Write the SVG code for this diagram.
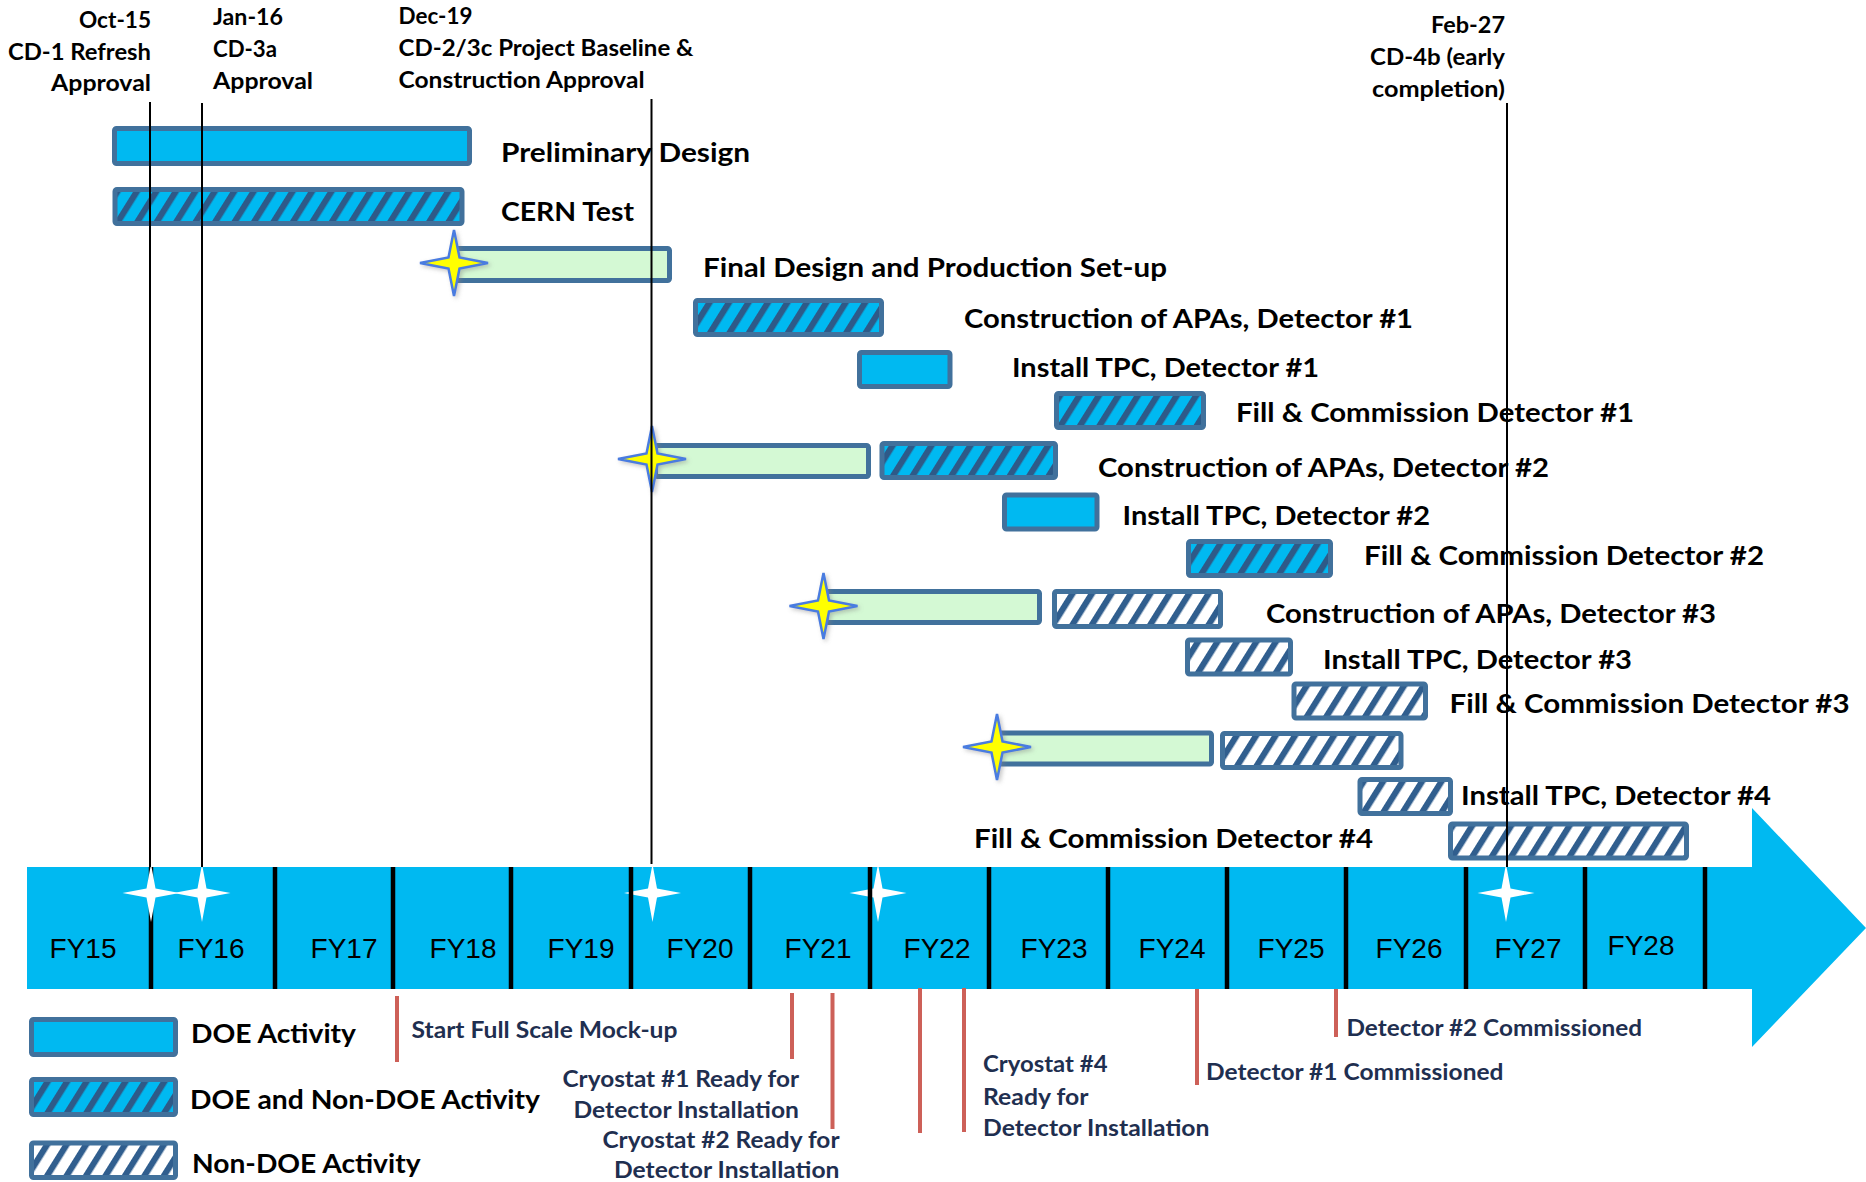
<svg xmlns="http://www.w3.org/2000/svg" xmlns:xlink="http://www.w3.org/1999/xlink" width="1866" height="1182" viewBox="0 0 1866 1182">
  <style>
    .band { fill: #00B9F1; }
    .div { stroke: #000; stroke-width: 4.5; }
    .fy { font-family: "Liberation Sans", Arial, sans-serif; font-size: 28px; fill: #000; text-anchor: middle; }
    .bar { stroke: #41719C; stroke-width: 5; }
    .doe { fill: #00B9F1; }
    .mix { fill: url(#hatchMix); }
    .non { fill: url(#hatchNon); }
    .grn { fill: #D4F9D4; }
    .top { font-family: Lato, "Liberation Sans", sans-serif; font-weight: bold; font-size: 23.5px; fill: #000; }
    .lbl { font-family: Lato, "Liberation Sans", sans-serif; font-weight: bold; font-size: 26.5px; fill: #000; }
    .leg { font-family: Lato, "Liberation Sans", sans-serif; font-weight: bold; font-size: 26px; fill: #000; }
    .note { font-family: Lato, "Liberation Sans", sans-serif; font-weight: bold; font-size: 22px; fill: #1F2F50; }
    .ms { stroke: #000; stroke-width: 2; }
    .red { stroke: #CD6058; stroke-width: 4; }
    .ystar { fill: #FFFF00; stroke: #4A7BE0; stroke-width: 2.5; filter: url(#soft); }
    .wstar { fill: #FFFFFF; }
  </style>
  <defs>
    <pattern id="hatchMix" patternUnits="userSpaceOnUse" width="16.5" height="20" patternTransform="rotate(32)">
      <rect width="16.5" height="20" fill="#00B9F1"/>
      <rect width="6.2" height="20" fill="#2E5A88"/>
    </pattern>
    <pattern id="hatchNon" patternUnits="userSpaceOnUse" width="16.5" height="20" patternTransform="rotate(32)">
      <rect width="16.5" height="20" fill="#FFFFFF"/>
      <rect width="6.2" height="20" fill="#305E8E"/>
    </pattern>
    <filter id="soft" x="-50%" y="-50%" width="200%" height="200%">
      <feDropShadow dx="2" dy="2" stdDeviation="2" flood-color="#808080" flood-opacity="0.45"/>
    </filter>
    <path id="ystarShape" d="M0,-33 L5.5,-5.5 L34,0 L5.5,5.5 L0,33 L-5.5,5.5 L-34,0 L-5.5,-5.5 Z"/>
    <path id="wstarShape" d="M0,-29 L4.5,-4.5 L28.5,0 L4.5,4.5 L0,29 L-4.5,4.5 L-28.5,0 L-4.5,-4.5 Z"/>
  </defs>

  <rect width="1866" height="1182" fill="#FFFFFF"/>

  <!-- fiscal-year timeline arrow -->
  <g id="timeline">
    <polygon class="band" points="27,867 1752,867 1752,808 1866,928 1752,1047 1752,989 27,989"/>
    <g>
      <line class="div" x1="151" y1="867" x2="151" y2="989"/>
      <line class="div" x1="275" y1="867" x2="275" y2="989"/>
      <line class="div" x1="393" y1="867" x2="393" y2="989"/>
      <line class="div" x1="511" y1="867" x2="511" y2="989"/>
      <line class="div" x1="750" y1="867" x2="750" y2="989"/>
      <line class="div" x1="989" y1="867" x2="989" y2="989"/>
      <line class="div" x1="1108" y1="867" x2="1108" y2="989"/>
      <line class="div" x1="1227" y1="867" x2="1227" y2="989"/>
      <line class="div" x1="1346" y1="867" x2="1346" y2="989"/>
      <line class="div" x1="1466" y1="867" x2="1466" y2="989"/>
      <line class="div" x1="1585" y1="867" x2="1585" y2="989"/>
      <line class="div" x1="1705" y1="867" x2="1705" y2="989"/>
    </g>
    <g>
      <use xlink:href="#wstarShape" class="wstar" x="151" y="893"/>
      <use xlink:href="#wstarShape" class="wstar" x="202" y="893"/>
      <use xlink:href="#wstarShape" class="wstar" x="652.5" y="893"/>
      <use xlink:href="#wstarShape" class="wstar" x="878" y="893"/>
      <use xlink:href="#wstarShape" class="wstar" x="1506" y="893"/>
    </g>
    <line class="div" x1="631" y1="867" x2="631" y2="989"/>
    <line class="div" x1="870" y1="867" x2="870" y2="989"/>
    <g>
      <text class="fy" x="83" y="958">FY15</text>
      <text class="fy" x="211" y="958">FY16</text>
      <text class="fy" x="344" y="958">FY17</text>
      <text class="fy" x="463" y="958">FY18</text>
      <text class="fy" x="581" y="958">FY19</text>
      <text class="fy" x="700" y="958">FY20</text>
      <text class="fy" x="818" y="958">FY21</text>
      <text class="fy" x="937" y="958">FY22</text>
      <text class="fy" x="1054" y="958">FY23</text>
      <text class="fy" x="1172" y="958">FY24</text>
      <text class="fy" x="1291" y="958">FY25</text>
      <text class="fy" x="1409" y="958">FY26</text>
      <text class="fy" x="1528" y="958">FY27</text>
      <text class="fy" x="1641" y="955">FY28</text>
    </g>
  </g>

  <!-- decision milestones -->
  <g id="cd1">
    <text class="top" x="79" y="28" textLength="72" lengthAdjust="spacingAndGlyphs">Oct-15</text>
    <text class="top" x="8" y="60" textLength="143" lengthAdjust="spacingAndGlyphs">CD-1 Refresh</text>
    <text class="top" x="51" y="91" textLength="100" lengthAdjust="spacingAndGlyphs">Approval</text>
  </g>
  <g id="cd3a">
    <text class="top" x="213" y="25" textLength="70" lengthAdjust="spacingAndGlyphs">Jan-16</text>
    <text class="top" x="213" y="57" textLength="64" lengthAdjust="spacingAndGlyphs">CD-3a</text>
    <text class="top" x="213" y="88.5" textLength="100" lengthAdjust="spacingAndGlyphs">Approval</text>
  </g>
  <g id="cd2">
    <text class="top" x="398.5" y="24" textLength="74" lengthAdjust="spacingAndGlyphs">Dec-19</text>
    <text class="top" x="398.5" y="55.5" textLength="295" lengthAdjust="spacingAndGlyphs">CD-2/3c Project Baseline &amp;</text>
    <text class="top" x="398.5" y="87.5" textLength="246" lengthAdjust="spacingAndGlyphs">Construction Approval</text>
  </g>
  <g id="cd4b">
    <text class="top" x="1431" y="33" textLength="74" lengthAdjust="spacingAndGlyphs">Feb-27</text>
    <text class="top" x="1370" y="65" textLength="135" lengthAdjust="spacingAndGlyphs">CD-4b (early</text>
    <text class="top" x="1372" y="96.5" textLength="133" lengthAdjust="spacingAndGlyphs">completion)</text>
  </g>

  <!-- activities -->
  <g id="preliminary-design">
    <rect class="bar doe" x="114.5" y="128.5" width="355" height="35" rx="2"/>
    <text class="lbl" x="501" y="162" textLength="249" lengthAdjust="spacingAndGlyphs">Preliminary Design</text>
  </g>
  <g id="cern-test">
    <rect class="bar mix" x="115" y="189.5" width="347" height="34" rx="2"/>
    <text class="lbl" x="501" y="221" textLength="133" lengthAdjust="spacingAndGlyphs">CERN Test</text>
  </g>
  <g id="final-design">
    <rect class="bar grn" x="456.5" y="248.5" width="213" height="32" rx="2"/>
    <use xlink:href="#ystarShape" class="ystar" x="454" y="263"/>
    <text class="lbl" x="703" y="276.5" textLength="464" lengthAdjust="spacingAndGlyphs">Final Design and Production Set-up</text>
  </g>
  <g id="apa-det1">
    <rect class="bar mix" x="695.5" y="300.5" width="186" height="34" rx="2"/>
    <text class="lbl" x="964" y="328" textLength="449" lengthAdjust="spacingAndGlyphs">Construction of APAs, Detector #1</text>
  </g>
  <g id="tpc-det1">
    <rect class="bar doe" x="859.5" y="352.5" width="90.5" height="34" rx="2"/>
    <text class="lbl" x="1012" y="376.5" textLength="307" lengthAdjust="spacingAndGlyphs">Install TPC, Detector #1</text>
  </g>
  <g id="fill-det1">
    <rect class="bar mix" x="1056.5" y="393.5" width="147" height="34" rx="2"/>
    <text class="lbl" x="1236" y="421.5" textLength="398" lengthAdjust="spacingAndGlyphs">Fill &amp; Commission Detector #1</text>
  </g>
  <g id="prep-det2">
    <rect class="bar grn" x="655.5" y="445.5" width="213" height="31" rx="2"/>
    <use xlink:href="#ystarShape" class="ystar" x="652" y="459"/>
  </g>
  <g id="apa-det2">
    <rect class="bar mix" x="882" y="443.5" width="173.5" height="34" rx="2"/>
    <text class="lbl" x="1098" y="476.5" textLength="451" lengthAdjust="spacingAndGlyphs">Construction of APAs, Detector #2</text>
  </g>
  <g id="tpc-det2">
    <rect class="bar doe" x="1004.5" y="495" width="92.5" height="34" rx="2"/>
    <text class="lbl" x="1122.5" y="525" textLength="307.5" lengthAdjust="spacingAndGlyphs">Install TPC, Detector #2</text>
  </g>
  <g id="fill-det2">
    <rect class="bar mix" x="1188.5" y="541.5" width="142" height="34" rx="2"/>
    <text class="lbl" x="1364" y="564.5" textLength="400" lengthAdjust="spacingAndGlyphs">Fill &amp; Commission Detector #2</text>
  </g>
  <g id="prep-det3">
    <rect class="bar grn" x="826" y="591.5" width="213.5" height="31" rx="2"/>
    <use xlink:href="#ystarShape" class="ystar" x="823.5" y="606"/>
  </g>
  <g id="apa-det3">
    <rect class="bar non" x="1054.5" y="591.5" width="166" height="35" rx="2"/>
    <text class="lbl" x="1266" y="622.5" textLength="450" lengthAdjust="spacingAndGlyphs">Construction of APAs, Detector #3</text>
  </g>
  <g id="tpc-det3">
    <rect class="bar non" x="1187.5" y="640" width="103" height="34" rx="2"/>
    <text class="lbl" x="1323" y="669" textLength="309" lengthAdjust="spacingAndGlyphs">Install TPC, Detector #3</text>
  </g>
  <g id="fill-det3">
    <rect class="bar non" x="1294" y="684" width="131.5" height="34" rx="2"/>
    <text class="lbl" x="1449.5" y="713" textLength="400" lengthAdjust="spacingAndGlyphs">Fill &amp; Commission Detector #3</text>
  </g>
  <g id="prep-det4">
    <rect class="bar grn" x="999.5" y="733" width="212" height="31" rx="2"/>
    <use xlink:href="#ystarShape" class="ystar" x="997" y="747"/>
  </g>
  <g id="apa-det4">
    <rect class="bar non" x="1222.5" y="733.5" width="178.5" height="34" rx="2"/>
  </g>
  <g id="tpc-det4">
    <rect class="bar non" x="1360" y="779.5" width="90.5" height="34" rx="2"/>
    <text class="lbl" x="1461" y="805" textLength="310" lengthAdjust="spacingAndGlyphs">Install TPC, Detector #4</text>
  </g>
  <g id="fill-det4">
    <rect class="bar non" x="1450.5" y="824" width="236" height="34" rx="2"/>
    <text class="lbl" x="974" y="848" textLength="399" lengthAdjust="spacingAndGlyphs">Fill &amp; Commission Detector #4</text>
  </g>

  <!-- legend -->
  <g id="legend-doe">
    <rect class="bar doe" x="31.5" y="1019.5" width="144" height="35" rx="2"/>
    <text class="leg" x="191" y="1043" textLength="165" lengthAdjust="spacingAndGlyphs">DOE Activity</text>
  </g>
  <g id="legend-mix">
    <rect class="bar mix" x="31.5" y="1079.5" width="144" height="35" rx="2"/>
    <text class="leg" x="190" y="1109" textLength="350" lengthAdjust="spacingAndGlyphs">DOE and Non-DOE Activity</text>
  </g>
  <g id="legend-non">
    <rect class="bar non" x="31.5" y="1143" width="144" height="34.5" rx="2"/>
    <text class="leg" x="192" y="1173" textLength="228.5" lengthAdjust="spacingAndGlyphs">Non-DOE Activity</text>
  </g>

  <!-- site milestone notes -->
  <g id="note-mockup">
    <text class="note" x="411.5" y="1038" textLength="266" lengthAdjust="spacingAndGlyphs">Start Full Scale Mock-up</text>
  </g>
  <g id="note-cryo1">
    <text class="note" x="562.5" y="1086.5" textLength="236.5" lengthAdjust="spacingAndGlyphs">Cryostat #1 Ready for</text>
    <text class="note" x="573.5" y="1118" textLength="225.5" lengthAdjust="spacingAndGlyphs">Detector Installation</text>
  </g>
  <g id="note-cryo2">
    <text class="note" x="602.5" y="1147.5" textLength="237" lengthAdjust="spacingAndGlyphs">Cryostat #2 Ready for</text>
    <text class="note" x="614" y="1178" textLength="225.5" lengthAdjust="spacingAndGlyphs">Detector Installation</text>
  </g>
  <g id="note-cryo4">
    <text class="note" x="983" y="1071.5" textLength="124.5" lengthAdjust="spacingAndGlyphs">Cryostat #4</text>
    <text class="note" x="983" y="1105" textLength="105.5" lengthAdjust="spacingAndGlyphs">Ready for</text>
    <text class="note" x="983" y="1136" textLength="226.5" lengthAdjust="spacingAndGlyphs">Detector Installation</text>
  </g>
  <g id="note-det1">
    <text class="note" x="1206" y="1080" textLength="297.5" lengthAdjust="spacingAndGlyphs">Detector #1 Commissioned</text>
  </g>
  <g id="note-det2">
    <text class="note" x="1346.5" y="1035.5" textLength="295.5" lengthAdjust="spacingAndGlyphs">Detector #2 Commissioned</text>
  </g>

  <!-- milestone markers -->
  <g id="connectors">
    <line class="ms" x1="150" y1="102" x2="150" y2="867"/>
    <line class="ms" x1="202" y1="103" x2="202" y2="867"/>
    <line class="ms" x1="651.5" y1="99" x2="651.5" y2="864"/>
    <line class="ms" x1="1507" y1="103" x2="1507" y2="867"/>
    <line class="red" x1="397" y1="996" x2="397" y2="1062"/>
    <line class="red" x1="792" y1="993" x2="792" y2="1059"/>
    <line class="red" x1="832.5" y1="993" x2="832.5" y2="1129"/>
    <line class="red" x1="920" y1="988" x2="920" y2="1133"/>
    <line class="red" x1="964" y1="988" x2="964" y2="1132"/>
    <line class="red" x1="1197" y1="989" x2="1197" y2="1085"/>
    <line class="red" x1="1336" y1="989" x2="1336" y2="1037"/>
  </g>
</svg>
